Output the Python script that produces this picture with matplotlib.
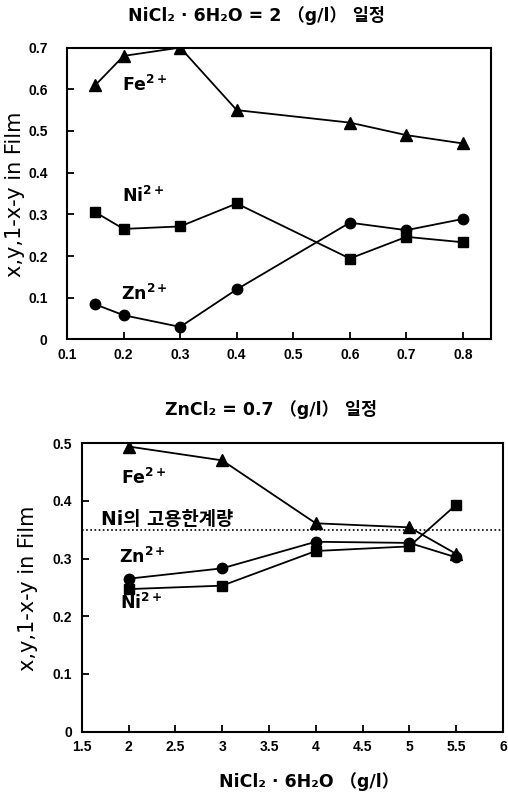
import matplotlib
matplotlib.use("Agg")
import matplotlib.pyplot as plt

TICKF = ['Liberation Sans', 'DejaVu Sans']
WIDE = ['DejaVu Sans', 'Noto Sans CJK KR']
plt.rcParams['font.family'] = TICKF
plt.rcParams['mathtext.fontset'] = 'dejavusans'

# Top panel: NiCl2·6H2O fixed at 2 g/l, x = ZnCl2 (g/l)
top_x = [0.15, 0.2, 0.3, 0.4, 0.6, 0.7, 0.8]
top_fe = [0.61, 0.68, 0.70, 0.55, 0.52, 0.49, 0.47]
top_ni = [0.305, 0.265, 0.271, 0.326, 0.194, 0.246, 0.233]
top_zn = [0.084, 0.058, 0.030, 0.120, 0.280, 0.262, 0.289]
top_xticks = [0.1, 0.2, 0.3, 0.4, 0.5, 0.6, 0.7, 0.8]
top_xticklabels = ['0.1', '0.2', '0.3', '0.4', '0.5', '0.6', '0.7', '0.8']
top_yticks = [0, 0.1, 0.2, 0.3, 0.4, 0.5, 0.6, 0.7]
top_yticklabels = ['0', '0.1', '0.2', '0.3', '0.4', '0.5', '0.6', '0.7']

# Bottom panel: ZnCl2 fixed at 0.7 g/l, x = NiCl2·6H2O (g/l)
bot_x = [2, 3, 4, 5, 5.5]
bot_fe = [0.494, 0.470, 0.361, 0.354, 0.308]
bot_zn = [0.265, 0.283, 0.329, 0.327, 0.302]
bot_ni = [0.247, 0.253, 0.313, 0.321, 0.393]
bot_limit = 0.349
bot_xticks = [1.5, 2, 2.5, 3, 3.5, 4, 4.5, 5, 5.5, 6]
bot_xticklabels = ['1.5', '2', '2.5', '3', '3.5', '4', '4.5', '5', '5.5', '6']
bot_yticks = [0, 0.1, 0.2, 0.3, 0.4, 0.5]
bot_yticklabels = ['0', '0.1', '0.2', '0.3', '0.4', '0.5']

fig = plt.figure(figsize=(5.08, 7.93), dpi=100)

def style(ax, ypad):
    for s in ax.spines.values():
        s.set_linewidth(1.5)
    ax.tick_params(direction='in', length=5, width=1.3, labelsize=10,
                   top=False, right=False)
    ax.tick_params(axis='x', pad=6)
    ax.tick_params(axis='y', pad=ypad)
    for lab in ax.get_xticklabels() + ax.get_yticklabels():
        lab.set_fontweight('bold')

lkw = dict(color='black', lw=1.3)
tkw = dict(fontsize=12.5, ha='center', va='center')

ax1 = fig.add_axes([0.132, 0.572, 0.835, 0.368])
ax1.plot(top_x, top_fe, marker='^', ms=8.5, **lkw)
ax1.plot(top_x, top_ni, marker='s', ms=7.5, **lkw)
ax1.plot(top_x, top_zn, marker='o', ms=7.5, **lkw)
ax1.set_xlim(0.1, 0.85)
ax1.set_ylim(0, 0.7)
ax1.set_xticks(top_xticks)
ax1.set_xticklabels(top_xticklabels)
ax1.set_yticks(top_yticks)
ax1.set_yticklabels(top_yticklabels)
style(ax1, 14)
ax1.text(0.237, 0.612, r'$\mathbf{Fe^{2+}}$', **tkw)
ax1.text(0.235, 0.346, r'$\mathbf{Ni^{2+}}$', **tkw)
ax1.text(0.237, 0.112, r'$\mathbf{Zn^{2+}}$', **tkw)
ax1.set_ylabel('x,y,1-x-y in Film', fontsize=15, family=['DejaVu Sans'])
ax1.yaxis.set_label_coords(-0.099, 0.497)
fig.text(0.504, 0.980, 'NiCl₂ · 6H₂O = 2 （g/l） 일정', ha='center', va='center',
         fontsize=12.5, fontweight='bold', family=WIDE)

ax2 = fig.add_axes([0.161, 0.0773, 0.829, 0.364])
ax2.plot(bot_x, bot_fe, marker='^', ms=8.5, **lkw)
ax2.plot(bot_x, bot_zn, marker='o', ms=7.5, **lkw)
ax2.plot(bot_x, bot_ni, marker='s', ms=7.5, **lkw)
ax2.axhline(bot_limit, color='black', lw=1.2, ls=(0, (1, 1.5)))
ax2.set_xlim(1.5, 6)
ax2.set_ylim(0, 0.5)
ax2.set_xticks(bot_xticks)
ax2.set_xticklabels(bot_xticklabels)
ax2.set_yticks(bot_yticks)
ax2.set_yticklabels(bot_yticklabels)
style(ax2, 7)
ax2.text(2.16, 0.442, r'$\mathbf{Fe^{2+}}$', **tkw)
ax2.text(2.15, 0.305, r'$\mathbf{Zn^{2+}}$', **tkw)
ax2.text(2.14, 0.225, r'$\mathbf{Ni^{2+}}$', **tkw)
ax2.text(1.70, 0.367, 'Ni의 고용한계량', fontsize=13.5, fontweight='bold',
         ha='left', va='center', family=WIDE)
ax2.set_ylabel('x,y,1-x-y in Film', fontsize=15, family=['DejaVu Sans'])
ax2.yaxis.set_label_coords(-0.104, 0.498)
fig.text(0.533, 0.483, 'ZnCl₂ = 0.7 （g/l） 일정', ha='center', va='center',
         fontsize=12.5, fontweight='bold', family=WIDE)
fig.text(0.608, 0.0143, 'NiCl₂ · 6H₂O （g/l）', ha='center', va='center',
         fontsize=12.5, fontweight='bold', family=WIDE)

fig.savefig('out.png', dpi=100)
